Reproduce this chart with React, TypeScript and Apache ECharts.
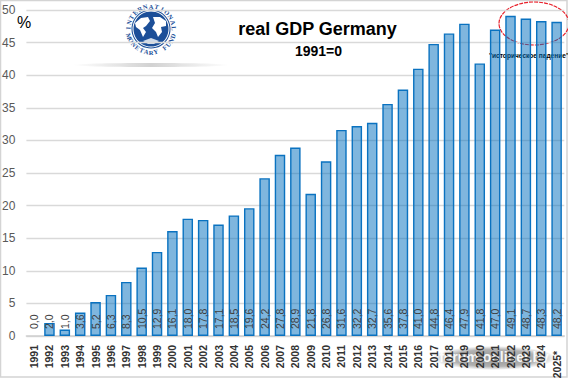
import React, { useEffect, useRef } from "react";
import * as echarts from "echarts";

const years = ["1991","1992","1993","1994","1995","1996","1997","1998","1999","2000","2001","2002","2003","2004","2005","2006","2007","2008","2009","2010","2011","2012","2013","2014","2015","2016","2017","2018","2019","2020","2021","2022","2023","2024","2025*"];
const gdp = [0,2,1,3.6,5.2,6.3,8.3,10.5,12.9,16.1,18,17.8,17.1,18.5,19.6,24.2,27.8,28.9,21.8,26.8,31.6,32.2,32.7,35.6,37.8,41,44.8,46.4,47.9,41.8,47,49.1,48.7,48.3,48.2];
const logoTop = "INTERNATIONAL";
const logoBottom = "MONETARY FUND";
const FONT = "'Liberation Sans', sans-serif";
const BLUE = "#1c4f98";

function arcLetters(text: string, cx: number, cy: number, r: number, from: number, to: number, bottom: boolean) {
  return text.split("").map((ch, i) => {
    const a = ((from + ((to - from) * i) / (text.length - 1)) * Math.PI) / 180;
    return {
      type: "text",
      x: cx + r * Math.sin(a),
      y: cy - r * Math.cos(a),
      rotation: -a + (bottom ? Math.PI : 0),
      style: { text: ch, fontFamily: "'Liberation Serif', serif", fontWeight: "bold", fontSize: 6.5, fill: BLUE, align: "center", verticalAlign: "middle" },
    };
  });
}

export default function App() {
  const ref = useRef<HTMLDivElement>(null);
  useEffect(() => {
    document.body.style.margin = "0";
    const chart = echarts.init(ref.current!, undefined, { renderer: "svg" });
    const cx = 151, cy = 29;
    chart.setOption({
      animation: false,
      backgroundColor: "#fff",
      grid: { left: 26.4, right: 3.7, top: 10, bottom: 42, outerBoundsMode: "none" },
      xAxis: {
        type: "category",
        data: years,
        axisTick: { show: false },
        axisLine: { lineStyle: { color: "#d0d0d0", width: 1.5 } },
        axisLabel: {
          interval: 0, rotate: 90, margin: 9, color: "#333", fontFamily: FONT, fontWeight: "bold", fontSize: 10.5,
          formatter: (v: string) => (v.endsWith("*") ? v + "  " : v),
        },
      },
      yAxis: {
        type: "value",
        min: 0,
        max: 50,
        interval: 5,
        axisLine: { show: false },
        axisTick: { show: false },
        splitLine: { lineStyle: { color: "#d9d9d9", width: 1.3 } },
        axisLabel: { margin: 11, color: "#595959", fontFamily: FONT, fontSize: 12 },
      },
      series: [{
        type: "bar",
        data: gdp.map((v) => (v === 0 ? { value: v, itemStyle: { borderWidth: 0 } } : v)),
        barWidth: 10.5,
        itemStyle: { color: "rgba(0,110,190,0.5)", borderColor: "#0a72c0", borderWidth: 1.4 },
        label: {
          show: true,
          position: "insideBottom",
          rotate: 90,
          align: "left",
          verticalAlign: "middle",
          distance: 7,
          color: "#404040",
          fontFamily: FONT,
          fontSize: 10.5,
          formatter: (p: any) => p.value.toFixed(1).replace(".", ","),
        },
      }],
      graphic: [
        { type: "rect", shape: { x: 0.5, y: 0.5, width: 566.5, height: 376.5 }, style: { fill: "none", stroke: "#d4d4d4", lineWidth: 1.5 } },
        { type: "text", x: 17, y: 22, style: { text: "%", fontFamily: FONT, fontSize: 16, fill: "#000", align: "left", verticalAlign: "middle" } },
        { type: "text", x: 317.5, y: 29, style: { text: "real GDP Germany", fontFamily: FONT, fontWeight: "bold", fontSize: 18, fill: "#000", align: "center", verticalAlign: "middle" } },
        { type: "text", x: 318.5, y: 51, style: { text: "1991=0", fontFamily: FONT, fontWeight: "bold", fontSize: 14, fill: "#000", align: "center", verticalAlign: "middle" } },
        { type: "text", x: 529, y: 55, style: { text: "\"историческое падение\"", fontFamily: FONT, fontWeight: "bold", fontSize: 6.6, fill: "#000", align: "center", verticalAlign: "middle" } },
        { type: "ellipse", shape: { cx: 534, cy: 23.5, rx: 35, ry: 21.5 }, style: { fill: "none", stroke: "#e8202a", lineWidth: 1.2, lineDash: [4, 1] } },
        { type: "ellipse", shape: { cx: 151, cy: 65, rx: 78, ry: 2 }, style: { fill: new echarts.graphic.LinearGradient(0, 0, 1, 0, [{ offset: 0, color: "rgba(190,190,190,0)" }, { offset: 0.5, color: "rgba(190,190,190,0.7)" }, { offset: 1, color: "rgba(190,190,190,0)" }]) } },
        { type: "circle", shape: { cx, cy, r: 26.5 }, style: { fill: "#fff" } },
        { type: "circle", shape: { cx, cy, r: 19.5 }, style: { fill: BLUE } },
        { type: "circle", shape: { cx, cy, r: 18.5 }, style: { fill: "#fff" } },
        { type: "circle", shape: { cx, cy, r: 17.5 }, style: { fill: BLUE } },
        { type: "polygon", shape: { points: [[cx - 16, cy - 6], [cx - 10, cy - 11], [cx - 3, cy - 12], [cx - 1, cy - 8], [cx - 5, cy - 3], [cx - 8, cy - 1], [cx - 5, cy + 3], [cx - 8, cy + 8], [cx - 11, cy + 1], [cx - 15, cy - 2]] }, style: { fill: "#fff" } },
        { type: "polygon", shape: { points: [[cx + 2, cy - 12], [cx + 9, cy - 12], [cx + 15, cy - 8], [cx + 15, cy - 3], [cx + 10, cy - 2], [cx + 11, cy + 3], [cx + 7, cy + 8], [cx + 5, cy + 3], [cx + 1, cy - 1], [cx + 4, cy - 6]] }, style: { fill: "#fff" } },
        { type: "polygon", shape: { points: [[cx - 8, cy + 12], [cx, cy + 9], [cx + 8, cy + 12], [cx + 3, cy + 15], [cx - 3, cy + 15]] }, style: { fill: "#cfdbeb" } },
        ...arcLetters(logoTop, cx, cy, 23, -88, 88, false),
        ...arcLetters(logoBottom, cx, cy, 23, 252, 108, true),
        { type: "ellipse", shape: { cx: 494, cy: 358, rx: 62, ry: 12 }, style: { fill: new echarts.graphic.RadialGradient(0.5, 0.5, 0.5, [{ offset: 0, color: "rgba(60,60,60,0.55)" }, { offset: 0.7, color: "rgba(60,60,60,0.4)" }, { offset: 1, color: "rgba(60,60,60,0)" }]) } },
        { type: "text", x: 494, y: 357, style: { text: "forum.onliner.by", fontFamily: FONT, fontWeight: "bold", fontSize: 14, fill: "rgba(255,255,255,0.92)", align: "center", verticalAlign: "middle" } },
      ],
    });
    return () => chart.dispose();
  }, []);
  return <div ref={ref} style={{ width: 568, height: 378 }} />;
}
